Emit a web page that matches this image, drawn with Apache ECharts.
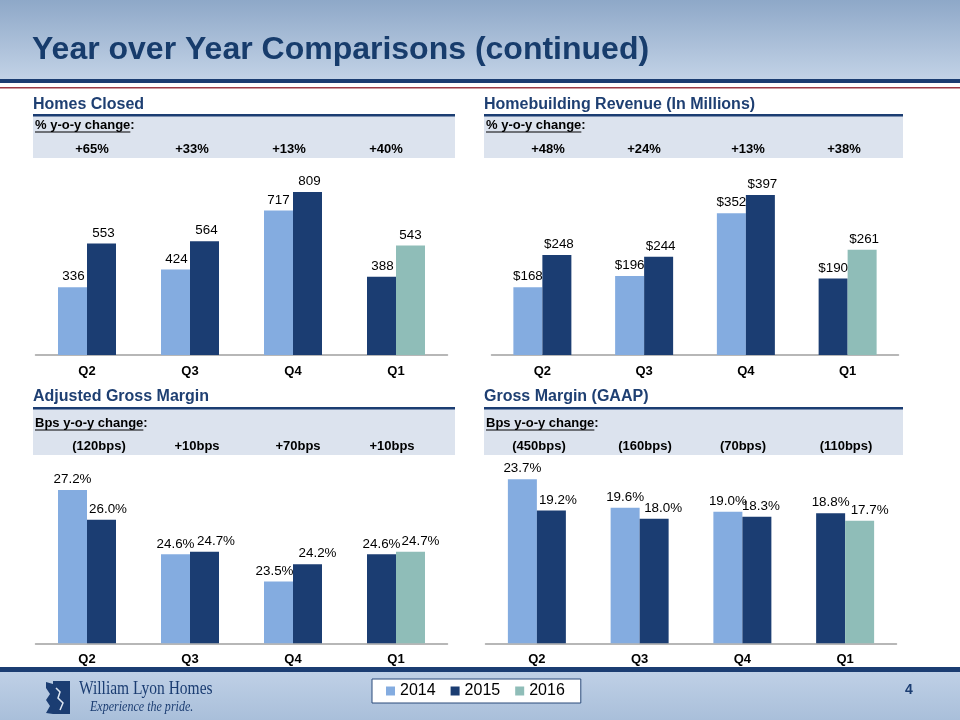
<!DOCTYPE html>
<html><head><meta charset="utf-8">
<script src="https://cdn.jsdelivr.net/npm/echarts@6/dist/echarts.min.js"></script>
<style>html,body{margin:0;padding:0;background:#fff}#c{width:960px;height:720px}</style>
</head><body><div id="c"></div>
<script>
// ---------------- DATA ----------------
const quarters = ['Q2', 'Q3', 'Q4', 'Q1'];
const legendYears = ['2014', '2015', '2016'];

const homes2014 = [336, 424, 717, null];
const homes2015 = [553, 564, 809, 388];
const homes2016 = [null, null, null, 543];
const homesChange = ['+65%', '+33%', '+13%', '+40%'];

const rev2014 = [168, 196, 352, null];
const rev2015 = [248, 244, 397, 190];
const rev2016 = [null, null, null, 261];
const revChange = ['+48%', '+24%', '+13%', '+38%'];

const adj2014 = [27.2, 24.6, 23.5, null];
const adj2015 = [26.0, 24.7, 24.2, 24.6];
const adj2016 = [null, null, null, 24.7];
const adjChange = ['(120bps)', '+10bps', '+70bps', '+10bps'];

const gaap2014 = [23.7, 19.6, 19.0, null];
const gaap2015 = [19.2, 18.0, 18.3, 18.8];
const gaap2016 = [null, null, null, 17.7];
const gaapChange = ['(450bps)', '(160bps)', '(70bps)', '(110bps)'];

// ---------------- STYLE / LAYOUT ----------------
const FONT = 'Liberation Sans, Arial, Helvetica, sans-serif';
const C14 = '#84ACE0', C15 = '#1B3D72', C16 = '#8FBDB8';
const NAVY = '#1B3D72', TITLE = '#1E3F72', BAND = '#DCE3EE';

const panels = [
  { title: 'Homes Closed', sub: '% y-o-y change', change: homesChange, d14: homes2014, d15: homes2015, d16: homes2016,
    fmt: v => String(v), min: 0, max: 1000,
    grid: { left: 35.5, width: 412, top: 153.4, height: 201.6 },
    nudgeL: [1, 1, 0, 1], nudgeR: [2, 2, 2, 0],
    band: { x0: 33, x1: 455, titleY: 105, lineY: 114, y0: 116, y1: 158, subY: 125, valY: 149 }, valX: [92, 192, 289, 386] },
  { title: 'Homebuilding Revenue (In Millions)', sub: '% y-o-y change', change: revChange, d14: rev2014, d15: rev2015, d16: rev2016,
    fmt: v => '$' + v, min: 0, max: 500,
    grid: { left: 491.5, width: 407, top: 153.5, height: 201.5 },
    nudgeL: [0, 0, 0, 0], nudgeR: [2, 2, 2, 2],
    band: { x0: 484, x1: 903, titleY: 105, lineY: 114, y0: 116, y1: 158, subY: 125, valY: 149 }, valX: [548, 644, 748, 844] },
  { title: 'Adjusted Gross Margin', sub: 'Bps y-o-y change', change: adjChange, d14: adj2014, d15: adj2015, d16: adj2016,
    fmt: v => v.toFixed(1) + '%', min: 21, max: 28,
    grid: { left: 35.5, width: 412, top: 470.3, height: 173 },
    nudgeL: [0, 0, -4, 0], nudgeR: [6.5, 11.5, 10, 10],
    band: { x0: 33, x1: 455, titleY: 397, lineY: 407, y0: 409, y1: 455, subY: 423, valY: 446 }, valX: [99, 197, 298, 392] },
  { title: 'Gross Margin (GAAP)', sub: 'Bps y-o-y change', change: gaapChange, d14: gaap2014, d15: gaap2015, d16: gaap2016,
    fmt: v => v.toFixed(1) + '%', min: 0, max: 25,
    grid: { left: 485.5, width: 411, top: 470.3, height: 173 },
    nudgeL: [0, 0, 0, 0], nudgeR: [6.5, 9, 4, 10],
    band: { x0: 484, x1: 903, titleY: 397, lineY: 407, y0: 409, y1: 455, subY: 423, valY: 446 }, valX: [539, 645, 743, 846] }
];

const measureCtx = document.createElement('canvas').getContext('2d');
function textWidth(t, font) { measureCtx.font = font; return measureCtx.measureText(t).width; }

const grids = [], xAxes = [], yAxes = [], series = [], graphics = [];

// header
graphics.push({ type: 'rect', shape: { x: 0, y: 0, width: 960, height: 79 }, z: 0,
  style: { fill: new echarts.graphic.LinearGradient(0, 0, 0, 1, [{ offset: 0, color: '#8EA8C8' }, { offset: 1, color: '#C2D2E6' }]) } });
graphics.push({ type: 'rect', shape: { x: 0, y: 79, width: 960, height: 4 }, z: 0, style: { fill: NAVY } });
graphics.push({ type: 'rect', shape: { x: 0, y: 87, width: 960, height: 1.5 }, z: 0, style: { fill: '#9B3A45' } });
graphics.push({ type: 'text', z: 1, style: { x: 32, y: 50, text: 'Year over Year Comparisons (continued)',
  fontSize: 32, fontWeight: 'bold', fontFamily: FONT, fill: '#173C6C', align: 'left', verticalAlign: 'middle', textAlign: 'left', textVerticalAlign: 'middle' } });

function mk(arr, keep, nudge) {
  return arr.map((v, j) => (v == null || !keep(j)) ? '-' : { value: v, label: { offset: [nudge[j], 0] } });
}

panels.forEach((p, i) => {
  grids.push(Object.assign({ containLabel: false }, p.grid));
  xAxes.push({ type: 'category', gridIndex: i, data: quarters,
    axisLine: { lineStyle: { color: '#A0A0A0', width: 1.5 } }, axisTick: { show: false },
    axisLabel: { color: '#000', fontWeight: 'bold', fontSize: 13, fontFamily: FONT, margin: 10 } });
  yAxes.push({ type: 'value', gridIndex: i, min: p.min, max: p.max, show: false, splitLine: { show: false } });
  const label = { show: true, position: 'top', distance: 4, color: '#000', fontSize: 13.4, fontFamily: FONT,
    formatter: prm => p.fmt(prm.value) };
  const base = { type: 'bar', xAxisIndex: i, yAxisIndex: i, barWidth: 29, barGap: '0%', label, animation: false };
  const has16 = j => p.d16[j] != null;
  series.push(Object.assign({}, base, { name: '2014', stack: 'L' + i, itemStyle: { color: C14 }, data: mk(p.d14, j => true, p.nudgeL) }));
  series.push(Object.assign({}, base, { name: '2015', stack: 'L' + i, itemStyle: { color: C15 }, data: mk(p.d15, j => has16(j), p.nudgeL) }));
  series.push(Object.assign({}, base, { name: '2015', stack: 'R' + i, itemStyle: { color: C15 }, data: mk(p.d15, j => !has16(j), p.nudgeR) }));
  series.push(Object.assign({}, base, { name: '2016', stack: 'R' + i, itemStyle: { color: C16 }, data: mk(p.d16, j => true, p.nudgeR) }));

  const b = p.band;
  graphics.push({ type: 'rect', z: 0, shape: { x: b.x0, y: b.y0, width: b.x1 - b.x0, height: b.y1 - b.y0 }, style: { fill: BAND } });
  graphics.push({ type: 'rect', z: 0, shape: { x: b.x0, y: b.lineY, width: b.x1 - b.x0, height: 2.5 }, style: { fill: NAVY } });
  graphics.push({ type: 'text', z: 1, style: { x: b.x0, y: b.titleY, text: p.title, fontSize: 16, fontWeight: 'bold', fontFamily: FONT,
    fill: TITLE, align: 'left', verticalAlign: 'middle', textAlign: 'left', textVerticalAlign: 'middle' } });
  graphics.push({ type: 'text', z: 1, style: { x: b.x0 + 2, y: b.subY, text: p.sub + ':', fontSize: 13, fontWeight: 'bold', fontFamily: FONT,
    fill: '#000', align: 'left', verticalAlign: 'middle', textAlign: 'left', textVerticalAlign: 'middle' } });
  const uw = textWidth(p.sub, 'bold 13px ' + FONT);
  graphics.push({ type: 'rect', z: 1, shape: { x: b.x0 + 2, y: b.subY + 6.5, width: uw, height: 1 }, style: { fill: '#000' } });
  p.change.forEach((t, j) => {
    graphics.push({ type: 'text', z: 1, style: { x: p.valX[j], y: b.valY, text: t, fontSize: 13, fontWeight: 'bold', fontFamily: FONT,
      fill: '#000', align: 'center', verticalAlign: 'middle', textAlign: 'center', textVerticalAlign: 'middle' } });
  });
});

// footer
graphics.push({ type: 'rect', z: 0, shape: { x: 0, y: 667, width: 960, height: 5 }, style: { fill: NAVY } });
graphics.push({ type: 'rect', z: 0, shape: { x: 0, y: 672, width: 960, height: 48 },
  style: { fill: new echarts.graphic.LinearGradient(0, 0, 0, 1, [{ offset: 0, color: '#BFD0E6' }, { offset: 1, color: '#A9BFDA' }]) } });
// lion mark (simplified)
graphics.push({ type: 'rect', z: 1, shape: { x: 53, y: 681, width: 17, height: 33 }, style: { fill: NAVY } });
graphics.push({ type: 'polygon', z: 1, shape: { points: [[46, 682], [53, 684], [53, 714], [46, 713], [50, 706], [46, 700], [50, 694], [46, 688]] }, style: { fill: NAVY } });
graphics.push({ type: 'polyline', z: 2, shape: { points: [[56, 688], [60, 692], [58, 698], [63, 703], [60, 710]] }, style: { stroke: '#DDE6F2', lineWidth: 1.5, fill: null } });
graphics.push({ type: 'text', z: 1, x: 79, y: 689, scaleX: 0.86, style: { x: 0, y: 0, text: 'William Lyon Homes', fontSize: 18, fontFamily: 'Liberation Serif, Times New Roman, serif',
  fill: NAVY, align: 'left', verticalAlign: 'middle', textAlign: 'left', textVerticalAlign: 'middle' } });
graphics.push({ type: 'text', z: 1, x: 90, y: 707, scaleX: 0.86, style: { x: 0, y: 0, text: 'Experience the pride.', fontSize: 14, fontStyle: 'italic', fontFamily: 'Liberation Serif, Times New Roman, serif',
  fill: NAVY, align: 'left', verticalAlign: 'middle', textAlign: 'left', textVerticalAlign: 'middle' } });
graphics.push({ type: 'text', z: 1, style: { x: 909, y: 690, text: '4', fontSize: 14, fontWeight: 'bold', fontFamily: FONT,
  fill: NAVY, align: 'center', verticalAlign: 'middle', textAlign: 'center', textVerticalAlign: 'middle' } });

const chart = echarts.init(document.getElementById('c'), null, { renderer: 'canvas' });
chart.setOption({
  backgroundColor: '#fff',
  animation: false,
  textStyle: { fontFamily: FONT },
  grid: grids, xAxis: xAxes, yAxis: yAxes, series: series,
  legend: { data: legendYears, left: 372, top: 679, z: 20, icon: 'rect', itemWidth: 9, itemHeight: 9, itemGap: 15,
    padding: [4, 16, 4, 14], backgroundColor: '#fff', borderColor: '#2B4A7A', borderWidth: 1, borderRadius: 0,
    textStyle: { fontSize: 16, color: '#000', fontFamily: FONT }, selectedMode: false },
  graphic: { elements: graphics }
});
</script></body></html>
